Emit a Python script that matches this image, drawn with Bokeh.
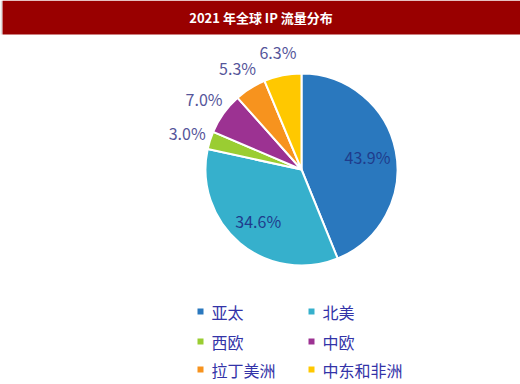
import numpy as np
from bokeh.plotting import figure
from bokeh.models import Range1d, ColumnDataSource
from bokeh.core.properties import value
from bokeh.embed import file_html
from bokeh.resources import INLINE

# ---- data ----
title = "2021 年全球 IP  流量分布"
regions = ["亚太", "北美", "西欧", "中欧", "拉丁美洲", "中东和非洲"]
shares = [43.9, 34.6, 3.0, 7.0, 5.3, 6.3]
colors = ["#2A78BE", "#36B0CC", "#9ACD32", "#9C3292", "#F7931E", "#FFC800"]
inside = [True, True, False, False, False, False]

W, H = 520, 384
FONT = value("Noto Sans CJK SC")

p = figure(width=W, height=H, output_backend="svg", toolbar_location=None,
           x_range=Range1d(0, W), y_range=Range1d(0, H), min_border=0)
p.axis.visible = False
p.grid.visible = False
p.outline_line_color = None
p.background_fill_color = "white"
p.border_fill_color = "white"

# title bar
p.quad(left=2, right=W, bottom=H - 34, top=H, fill_color="#990000", line_color=None)
p.quad(left=0, right=1.5, bottom=H - 34, top=H, fill_color="#DDDDDD", line_color=None)
p.text(x=[W / 2 + 2], y=[H - 17], text=[title], text_color="white",
       text_font=FONT, text_font_size="13px", text_font_style="bold",
       text_align="center", text_baseline="middle")

# pie
cx, cy, R = 301, H - 169, 96
vals = np.array(shares)
frac = vals / vals.sum()
cum = np.concatenate([[0], np.cumsum(frac)])
theta1 = cum[:-1] * 2 * np.pi  # clockwise from top
theta2 = cum[1:] * 2 * np.pi
src = ColumnDataSource(dict(start=np.pi / 2 - theta2, end=np.pi / 2 - theta1,
                            color=colors))
p.wedge(x=cx, y=cy, radius=R, start_angle="start", end_angle="end",
        fill_color="color", line_color="white", line_width=2, source=src)

mid = (theta1 + theta2) / 2
lx, ly, lc = [], [], []
for i, m in enumerate(mid):
    r = 0.7 * R if inside[i] else 1.25 * R
    lx.append(cx + r * np.sin(m))
    ly.append(cy + r * np.cos(m))
    lc.append("#1F3C8C" if inside[i] else "#55559A")
p.text(x=lx, y=ly, text=[f"{s:.1f}%" for s in shares], text_color=lc,
       text_font=FONT, text_font_size="16px", text_align="center",
       text_baseline="middle")

# legend (2 columns x 3 rows)
col_x = [200, 311]
row_y = [311, 341, 369]
sx, sy, tx = [], [], []
for i in range(len(regions)):
    c, r = i % 2, i // 2
    sx.append(col_x[c])
    sy.append(H - row_y[r])
    tx.append(col_x[c] + 11)
p.scatter(x=sx, y=sy, marker="square", size=6, fill_color=colors, line_color=None)
p.text(x=tx, y=sy, text=regions, text_color="#3333A8", text_font=FONT,
       text_font_size="16px", text_align="left", text_baseline="middle")

open("out.html", "w").write(file_html(p, INLINE))
